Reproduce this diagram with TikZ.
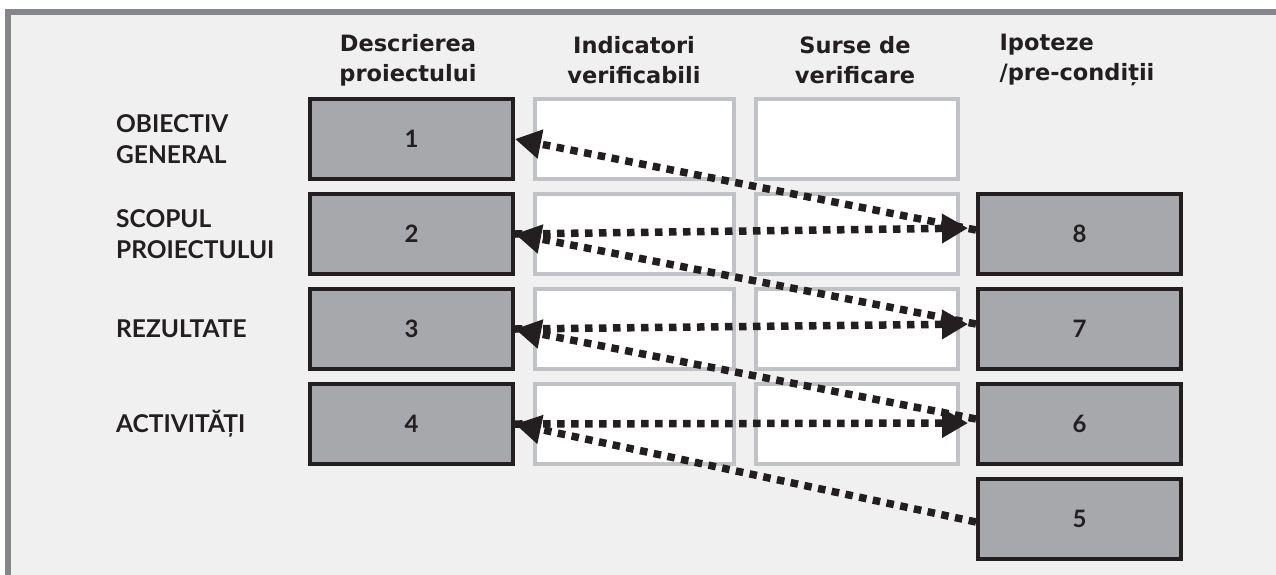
\documentclass[tikz,border=0pt]{standalone}
\usepackage{fontspec}
\setmainfont{Lato}
\newfontfamily\hdfont{DejaVu Sans}
\usetikzlibrary{arrows.meta,calc}
\definecolor{bgc}{HTML}{F0F0F0}
\definecolor{frm}{HTML}{858689}
\definecolor{dk}{HTML}{231F20}
\definecolor{boxg}{HTML}{A7A8AB}
\definecolor{wbd}{HTML}{C1C2C5}
\tikzset{
  darkbox/.style={draw=dk, fill=boxg, line width=4pt, minimum width=203pt, minimum height=80pt, inner sep=0pt, font=\fontsize{24}{28}\selectfont\bfseries, text=dk},
  whitebox/.style={draw=wbd, fill=white, line width=4pt, minimum width=199pt, minimum height=80pt, inner sep=0pt},
  hdr/.style={align=center, font=\hdfont\fontsize{22.5}{30}\selectfont\bfseries, text=dk, inner sep=0pt},
  rowlab/.style={anchor=west, align=left, font=\fontsize{24.5}{31}\selectfont\bfseries, text=dk, inner sep=0pt},
  arr/.style={draw=dk, line width=7.5pt, dash pattern=on 7.5pt off 6.5pt, -{Triangle[length=26pt,width=28pt]}},
}
\begin{document}
\begin{tikzpicture}[x=1pt,y=-1pt]
\useasboundingbox (0,0) rectangle (1276,574);
\clip (0,0) rectangle (1276,574);
\fill[white] (0,0) rectangle (1276,574);
\fill[bgc] (8,12) rectangle (1290,590);
\draw[frm, line width=6pt] (8,590) -- (8,12) -- (1290,12);
% headers
\node[hdr] (h1) at (408,60) {Descrierea\\proiectului};
\node[hdr] (h2) at (634,60) {Indicatori\\verificabili};
\node[hdr] (h3) at (855,60) {Surse de\\verificare};
\node[hdr, align=left] (h4) at (1077,60) {Ipoteze\\/pre-condiții};
% row labels
\node[rowlab] (l1) at (116,139) {OBIECTIV\\GENERAL};
\node[rowlab] (l2) at (116,234) {SCOPUL\\PROIECTULUI};
\node[rowlab] (l3) at (116,329) {REZULTATE};
\node[rowlab] (l4) at (116,424) {ACTIVITĂȚI};
% left column
\node[darkbox] (b1) at (411.5,139) {1};
\node[darkbox] (b2) at (411.5,234) {2};
\node[darkbox] (b3) at (411.5,329) {3};
\node[darkbox] (b4) at (411.5,424) {4};
% white boxes
\foreach \r/\y in {1/139,2/234,3/329,4/424}{
  \node[whitebox] (wa\r) at (634.5,\y) {};
  \node[whitebox, minimum width=202pt] (wb\r) at (857,\y) {};
}
% right column
\node[darkbox] (b8) at (1079.5,234) {8};
\node[darkbox] (b7) at (1079.5,329) {7};
\node[darkbox] (b6) at (1079.5,424) {6};
\node[darkbox] (b5) at (1079.5,519) {5};
% connectors
\draw[arr] ($(b8.west)+(0,-4)$) -- (b1.east);
\draw[arr] ($(b7.west)+(0,-5)$) -- (b2.east);
\draw[arr] ($(b6.west)+(0,-5)$) -- (b3.east);
\draw[arr] ($(b5.west)+(0,3)$) -- (b4.east);
\draw[arr, shorten >=8pt] (b2.east) -- ($(b8.west)+(0,-6)$);
\draw[arr, shorten >=8pt] (b3.east) -- ($(b7.west)+(0,-5)$);
\draw[arr, shorten >=8pt] (b4.east) -- ($(b6.west)+(0,-1)$);
\end{tikzpicture}
\end{document}
